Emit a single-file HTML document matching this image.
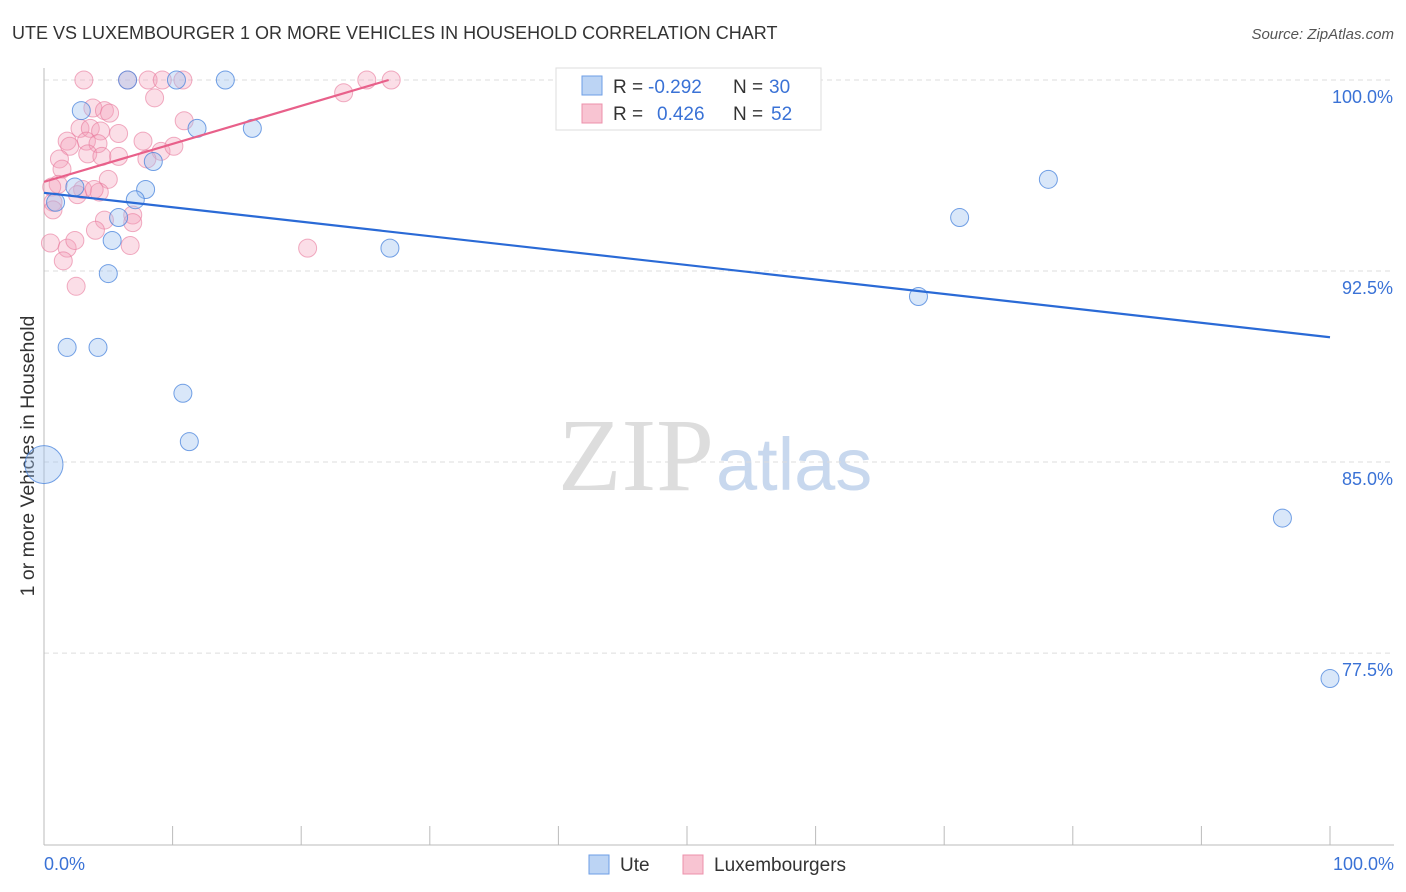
<!DOCTYPE html>
<html><head><meta charset="utf-8">
<style>
body{margin:0;background:#fff;font-family:"Liberation Sans",sans-serif;}
#wrap{position:relative;width:1406px;height:892px;overflow:hidden;}
</style></head>
<body><div id="wrap">
<svg id="svg" width="1406" height="892">
<text x="12" y="39" font-size="18" fill="#333">UTE VS LUXEMBOURGER 1 OR MORE VEHICLES IN HOUSEHOLD CORRELATION CHART</text>
<text x="1394" y="39" font-size="15" fill="#555" font-style="italic" text-anchor="end">Source: ZipAtlas.com</text>
<text transform="translate(34,456) rotate(-90)" font-size="19.5" fill="#333" text-anchor="middle">1 or more Vehicles in Household</text>
<text x="714" y="490" font-size="104" fill="#ddd" font-family="Liberation Serif,serif" text-anchor="end">ZIP</text>
<text x="716" y="490" font-size="74" fill="#c8d8ee">atlas</text>
<g id="grid"></g><g id="axes"></g><g id="pts"></g><g id="lines"></g>
<g>
<rect x="556" y="68" width="265" height="62" fill="#fff" stroke="#ddd"/>
<rect x="582" y="76" width="20" height="19" fill="#bcd4f4" stroke="#6d9ee6"/>
<rect x="582" y="104" width="20" height="19" fill="#f8c4d2" stroke="#ec90ab"/>
<text x="613" y="93" font-size="19" fill="#333">R =</text>
<text x="648" y="93" font-size="19" fill="#3a72d6">-0.292</text>
<text x="733" y="93" font-size="19" fill="#333">N =</text>
<text x="769" y="93" font-size="19" fill="#3a72d6">30</text>
<text x="613" y="120" font-size="19" fill="#333">R =</text>
<text x="657" y="120" font-size="19" fill="#3a72d6">0.426</text>
<text x="733" y="120" font-size="19" fill="#333">N =</text>
<text x="771" y="120" font-size="19" fill="#3a72d6">52</text>
</g>
<g>
<rect x="589" y="855" width="20" height="19" fill="#bcd4f4" stroke="#6d9ee6"/>
<text x="620" y="871" font-size="19" fill="#333">Ute</text>
<rect x="683" y="855" width="20" height="19" fill="#f8c4d2" stroke="#ec90ab"/>
<text x="714" y="871" font-size="19" fill="#333">Luxembourgers</text>
</g>
</svg></div>
<script>
const yTicks=[100,92.5,85,77.5];
const xTickLabels=["0.0%","100.0%"];
const uteX=[6.5,10.3,14.1,52.4,56.8,44.2,2.9,11.9,16.2,8.5,7.9,7.1,2.4,0.9,5.8,5.3,5.0,26.9,1.8,4.2,10.8,11.3,0,71.2,78.1,68,96.3,100];
const uteY=[100,100,100,100,100,100,98.8,98.1,98.1,96.8,95.7,95.3,95.8,95.2,94.6,93.7,92.4,93.4,89.5,89.5,87.7,85.8,84.9,94.6,96.1,91.5,82.8,76.5];
const luxX=[3.1,6.5,8.1,9.2,10.8,8.6,25.1,27,23.3,3.8,4.7,5.1,10.9,2.8,3.6,4.4,5.8,1.8,2.0,3.3,4.2,7.7,3.4,4.5,5.8,9.1,10.1,8.0,1.2,1.4,5.0,1.1,3.0,4.3,2.6,0.6,0.7,0.7,6.9,6.9,4.7,4.0,0.5,1.8,2.4,1.5,20.5,2.5,3.9,6.7];
const luxY=[100,100,100,100,100,99.3,100,100,99.5,98.9,98.8,98.7,98.4,98.1,98.1,98.0,97.9,97.6,97.4,97.6,97.5,97.6,97.1,97.0,97.0,97.2,97.4,96.9,96.9,96.5,96.1,95.9,95.7,95.6,95.5,95.8,95.2,94.9,94.7,94.4,94.5,94.1,93.6,93.4,93.7,92.9,93.4,91.9,95.7,93.5];
const uteTrend=[[0,95.57],[100,89.9]];
const luxTrend=[[0,96.0],[26.8,100]];
const X=v=>44+v*12.86, Y=v=>80+(100-v)*25.47;
const NS="http://www.w3.org/2000/svg";
function mk(t,a,p){const e=document.createElementNS(NS,t);for(const k in a)e.setAttribute(k,a[k]);p.appendChild(e);return e;}
const grid=document.getElementById('grid'),axes=document.getElementById('axes'),pts=document.getElementById('pts'),lines=document.getElementById('lines');
yTicks.forEach(t=>{
 const l=mk('line',{x1:44,x2:1394,y1:Y(t),y2:Y(t),stroke:'#ddd','stroke-dasharray':'5,4'},grid);
 
 
 const tx=mk('text',{x:1393,y:Y(t)+23,'font-size':18,fill:'#3a72d6','text-anchor':'end'},grid);
 tx.textContent=t.toFixed(1)+'%';
 
 
});
mk('line',{x1:44,x2:44,y1:68,y2:845,stroke:'#bbb'},axes);
mk('line',{x1:44,x2:1394,y1:845,y2:845,stroke:'#bbb'},axes);
for(let i=0;i<=10;i++){mk('line',{x1:X(i*10),x2:X(i*10),y1:826,y2:845,stroke:'#bbb'},axes);}
xTickLabels.forEach((s,i)=>{
 const tx=mk('text',{x:i?1394:44,y:870,'font-size':18,fill:'#3a72d6','text-anchor':i?'end':'start'},axes);
 tx.textContent=s;
 
 
});
luxX.forEach((v,i)=>{
 const c=mk('circle',{cx:X(v),cy:Y(luxY[i]),r:9,fill:'rgba(244,160,185,0.35)',stroke:'rgba(232,120,155,0.6)'},pts);
 
 
});
uteX.forEach((v,i)=>{
 const c=mk('circle',{cx:X(v),cy:Y(uteY[i]),r:v===0?19:9,fill:'rgba(160,195,240,0.4)',stroke:'rgba(70,130,220,0.75)'},pts);
 
 
});
const b=mk('line',{x1:X(uteTrend[0][0]),y1:Y(uteTrend[0][1]),x2:X(uteTrend[1][0]),y2:Y(uteTrend[1][1]),stroke:'#2a6ad6','stroke-width':2.2},lines);


const p=mk('line',{x1:X(luxTrend[0][0]),y1:Y(luxTrend[0][1]),x2:X(luxTrend[1][0]),y2:Y(luxTrend[1][1]),stroke:'#e8608a','stroke-width':2.2},lines);


</script>
</body></html>
